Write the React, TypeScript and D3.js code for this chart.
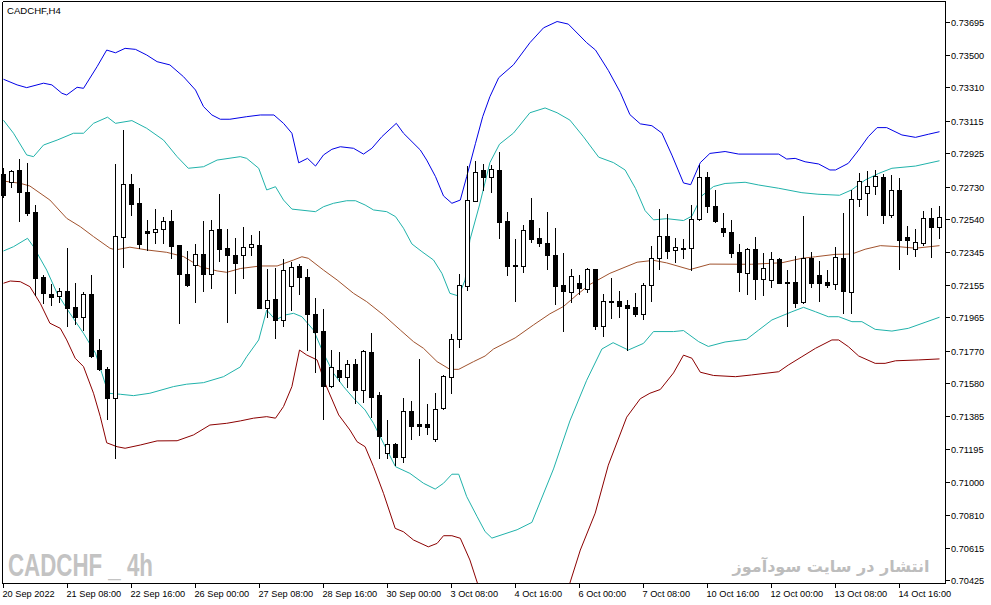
import React from "react";
import * as d3 from "d3";

// ---------- DATA ----------
const candleOpen = [
  0.72804, 0.72755, 0.72827, 0.72698, 0.72580, 0.72202, 0.72101, 0.72089, 0.72116, 0.72023,
  0.71968, 0.72101, 0.71773, 0.71664, 0.71490, 0.72437, 0.72745, 0.72633, 0.72470, 0.72462,
  0.72480, 0.72528, 0.72388, 0.72218, 0.72269, 0.72334, 0.72218, 0.72482, 0.72371, 0.72330,
  0.72328, 0.72375, 0.72388, 0.72021, 0.72070, 0.71947, 0.72150, 0.72265, 0.72198, 0.71984,
  0.71884, 0.71564, 0.71656, 0.71617, 0.71692, 0.71541, 0.71761, 0.71510, 0.71169, 0.71223,
  0.71145, 0.71416, 0.71340, 0.71340, 0.71250, 0.71432, 0.71617, 0.71836, 0.72150, 0.72647,
  0.72827, 0.72783, 0.72827, 0.72529, 0.72268, 0.72265, 0.72535, 0.72428, 0.72402, 0.72330,
  0.72151, 0.72113, 0.72168, 0.72131, 0.72247, 0.71916, 0.72060, 0.72058, 0.72034, 0.72024,
  0.71985, 0.72151, 0.72313, 0.72442, 0.72361, 0.72372, 0.72370, 0.72542, 0.72787, 0.72616,
  0.72488, 0.72462, 0.72345, 0.72225, 0.72363, 0.72191, 0.72181, 0.72306, 0.72169, 0.72169,
  0.72052, 0.72310, 0.72212, 0.72173, 0.72158, 0.72314, 0.72114, 0.72655, 0.72690, 0.72733,
  0.72786, 0.72564, 0.72708, 0.72435, 0.72363, 0.72398, 0.72544, 0.72491,
];
const candleHigh = [
  0.72839, 0.72826, 0.72889, 0.72869, 0.72620, 0.72212, 0.72160, 0.72134, 0.72371, 0.72164,
  0.72111, 0.72212, 0.71838, 0.71672, 0.72860, 0.73061, 0.72804, 0.72720, 0.72534, 0.72597,
  0.72554, 0.72593, 0.72390, 0.72353, 0.72394, 0.72528, 0.72534, 0.72686, 0.72482, 0.72431,
  0.72492, 0.72446, 0.72470, 0.72247, 0.72255, 0.72306, 0.72290, 0.72275, 0.72247, 0.72076,
  0.72013, 0.71773, 0.71763, 0.71715, 0.71719, 0.71773, 0.71874, 0.71529, 0.71363, 0.71227,
  0.71494, 0.71475, 0.71720, 0.71457, 0.71523, 0.71627, 0.71867, 0.72218, 0.72852, 0.72879,
  0.72863, 0.72859, 0.72935, 0.72583, 0.72421, 0.72507, 0.72665, 0.72486, 0.72579, 0.72486,
  0.72341, 0.72247, 0.72211, 0.72254, 0.72250, 0.72099, 0.72194, 0.72118, 0.72065, 0.72109,
  0.72164, 0.72384, 0.72596, 0.72568, 0.72431, 0.72421, 0.72622, 0.72859, 0.72816, 0.72710,
  0.72574, 0.72534, 0.72392, 0.72369, 0.72433, 0.72343, 0.72345, 0.72310, 0.72241, 0.72323,
  0.72558, 0.72345, 0.72294, 0.72241, 0.72378, 0.72577, 0.72710, 0.72811, 0.72821, 0.72827,
  0.72804, 0.72796, 0.72778, 0.72497, 0.72480, 0.72587, 0.72603, 0.72616,
];
const candleLow = [
  0.72669, 0.72729, 0.72530, 0.72564, 0.72095, 0.72050, 0.72037, 0.72056, 0.71914, 0.71926,
  0.71890, 0.71730, 0.71656, 0.71371, 0.71139, 0.72261, 0.72564, 0.72369, 0.72359, 0.72398,
  0.72398, 0.72310, 0.71930, 0.72150, 0.72056, 0.72120, 0.72138, 0.72296, 0.71936, 0.72108,
  0.72193, 0.72330, 0.72019, 0.71968, 0.71845, 0.71916, 0.72007, 0.72101, 0.71773, 0.71646,
  0.71367, 0.71558, 0.71594, 0.71558, 0.71461, 0.71470, 0.71382, 0.71139, 0.71139, 0.71100,
  0.71119, 0.71250, 0.71276, 0.71281, 0.71242, 0.71426, 0.71523, 0.71793, 0.72124, 0.72645,
  0.72708, 0.72698, 0.72428, 0.72211, 0.72060, 0.72232, 0.72405, 0.72384, 0.72247, 0.72043,
  0.71883, 0.72054, 0.72103, 0.72113, 0.71898, 0.71855, 0.71959, 0.71968, 0.71773, 0.71974,
  0.71952, 0.72060, 0.72247, 0.72313, 0.72287, 0.72310, 0.72239, 0.72535, 0.72583, 0.72525,
  0.72441, 0.72320, 0.72118, 0.72101, 0.72072, 0.72095, 0.72144, 0.72164, 0.71916, 0.72027,
  0.72046, 0.72140, 0.72060, 0.72140, 0.72128, 0.71991, 0.71991, 0.72618, 0.72564, 0.72686,
  0.72515, 0.72554, 0.72245, 0.72335, 0.72326, 0.72388, 0.72320, 0.72431,
];
const candleClose = [
  0.72681, 0.72823, 0.72700, 0.72577, 0.72196, 0.72105, 0.72085, 0.72116, 0.72017, 0.71968,
  0.72099, 0.71740, 0.71664, 0.71490, 0.72439, 0.72745, 0.72629, 0.72394, 0.72460, 0.72480,
  0.72528, 0.72384, 0.72216, 0.72156, 0.72334, 0.72216, 0.72476, 0.72367, 0.72328, 0.72284,
  0.72375, 0.72392, 0.72021, 0.72064, 0.71947, 0.72241, 0.72259, 0.72198, 0.71984, 0.71880,
  0.71564, 0.71674, 0.71615, 0.71692, 0.71541, 0.71767, 0.71500, 0.71271, 0.71223, 0.71149,
  0.71416, 0.71330, 0.71330, 0.71324, 0.71428, 0.71621, 0.71838, 0.72154, 0.72651, 0.72813,
  0.72783, 0.72831, 0.72525, 0.72265, 0.72262, 0.72477, 0.72423, 0.72400, 0.72330, 0.72147,
  0.72118, 0.72204, 0.72135, 0.72247, 0.71916, 0.72058, 0.72057, 0.72028, 0.72021, 0.71985,
  0.72151, 0.72313, 0.72442, 0.72352, 0.72374, 0.72373, 0.72542, 0.72787, 0.72615, 0.72530,
  0.72466, 0.72343, 0.72230, 0.72363, 0.72191, 0.72251, 0.72304, 0.72167, 0.72167, 0.72050,
  0.72310, 0.72167, 0.72167, 0.72156, 0.72318, 0.72120, 0.72655, 0.72761, 0.72733, 0.72790,
  0.72564, 0.72708, 0.72419, 0.72415, 0.72404, 0.72544, 0.72491, 0.72550,
];

// bands: [bar index, price]
const upperOuterBand: [number, number][] = [
  [0, 0.73358], [1.7, 0.73325], [2.9, 0.73309], [5.0, 0.73335], [6.05, 0.73325], [7.3, 0.73276],
  [7.9, 0.73266], [9.2, 0.73311], [10.0, 0.73305], [11.7, 0.73432], [12.9, 0.73529], [14.0, 0.73513],
  [15.2, 0.73539], [16.5, 0.73533], [17.9, 0.735], [19.2, 0.73461], [20.8, 0.73442], [22.5, 0.73373],
  [24.0, 0.73295], [25.0, 0.73198], [26.05, 0.73149], [27.1, 0.73124], [28.3, 0.73124], [30.4, 0.73139],
  [32.1, 0.73149], [33.8, 0.73149], [35.0, 0.731], [36.05, 0.73042], [36.9, 0.72869], [38.0, 0.72895],
  [39.0, 0.7285], [40.0, 0.72915], [41.05, 0.72948], [42.1, 0.72963], [43.75, 0.72954], [45.0, 0.7292],
  [46.05, 0.72954], [47.3, 0.73022], [49.1, 0.731], [50.0, 0.73042], [52.1, 0.72944], [52.9, 0.72885],
  [54.0, 0.72788], [55.0, 0.72675], [56.05, 0.72632], [57.1, 0.72651], [57.9, 0.72788], [59.0, 0.72983],
  [59.9, 0.73139], [60.8, 0.73256], [61.9, 0.73367], [63.75, 0.73443], [65.8, 0.73572], [67.5, 0.73659],
  [69.2, 0.73696], [70.6, 0.73681], [72.9, 0.73572], [74.0, 0.73529], [75.6, 0.7341], [77.1, 0.73281],
  [78.3, 0.73151], [79.6, 0.73097], [81.05, 0.73086], [82.3, 0.73043], [83.55, 0.72914], [85.0, 0.72751],
  [85.9, 0.72741], [87.1, 0.7287], [88.3, 0.72924], [90.2, 0.72935], [91.9, 0.7292], [96.9, 0.7292],
  [97.9, 0.72891], [98.96, 0.72895], [100.2, 0.72875], [101.9, 0.72862], [103.3, 0.72827], [104.0, 0.72827],
  [105.6, 0.72866], [106.9, 0.72944], [108.1, 0.73022], [109.2, 0.73075], [110.4, 0.73075], [112.3, 0.73032],
  [114.0, 0.73018], [115.6, 0.73036], [117.0, 0.73051],
];
const upperInnerBand: [number, number][] = [
  [0, 0.73118], [1.25, 0.73042], [2.9, 0.72915], [3.75, 0.72905], [5.0, 0.72973], [6.7, 0.73002],
  [8.75, 0.73042], [10.0, 0.73042], [11.25, 0.731], [13.0, 0.73136], [14.0, 0.731], [16.05, 0.73116],
  [17.9, 0.73071], [20.0, 0.73002], [21.7, 0.72905], [23.1, 0.72837], [25.0, 0.72846], [26.7, 0.72885],
  [29.6, 0.72905], [30.4, 0.72895], [31.9, 0.72837], [32.9, 0.7271], [34.0, 0.72729], [35.0, 0.72651],
  [36.05, 0.72598], [39.0, 0.72583], [40.0, 0.72612], [41.25, 0.72632], [42.9, 0.72647], [44.0, 0.72647],
  [45.2, 0.72622], [46.25, 0.72593], [47.9, 0.72583], [49.0, 0.72554], [50.0, 0.72486], [51.05, 0.72394],
  [52.3, 0.72349], [53.75, 0.723], [54.8, 0.72222], [55.8, 0.72105], [56.9, 0.72089], [57.7, 0.72183],
  [58.3, 0.72417], [59.5, 0.72622], [60.8, 0.7287], [62.0, 0.72978], [63.75, 0.73043], [65.8, 0.73162],
  [67.7, 0.7319], [69.2, 0.73162], [70.8, 0.73119], [72.5, 0.73021], [74.4, 0.72902], [76.25, 0.7287],
  [77.7, 0.72827], [79.0, 0.72719], [80.2, 0.72589], [81.25, 0.72535], [82.9, 0.72542], [85.0, 0.72531],
  [86.05, 0.72557], [87.3, 0.72676], [88.75, 0.7273], [90.2, 0.72748], [92.7, 0.72755], [94.4, 0.72739],
  [96.9, 0.7272], [99.8, 0.72694], [101.8, 0.72685], [104.5, 0.72679], [106.0, 0.7271], [107.7, 0.72768],
  [109.4, 0.72807], [111.05, 0.72837], [114.0, 0.7285], [117.0, 0.72881],
];
const middleBand: [number, number][] = [
  [0, 0.72762], [2.1, 0.72749], [3.3, 0.72733], [5.8, 0.72651], [7.9, 0.72544], [9.6, 0.72495],
  [11.25, 0.72437], [13.3, 0.72369], [14.0, 0.72359], [15.8, 0.72375], [17.9, 0.72359], [20.4, 0.72345],
  [22.5, 0.7232], [24.6, 0.72261], [26.7, 0.72236], [27.9, 0.72228], [29.6, 0.7225], [32.1, 0.72265],
  [34.2, 0.72265], [36.25, 0.723], [37.3, 0.72319], [38.1, 0.7231], [40.0, 0.72241], [41.7, 0.72183],
  [43.75, 0.72105], [45.4, 0.72056], [47.5, 0.71978], [49.6, 0.7189], [51.25, 0.71822], [52.5, 0.71783],
  [54.2, 0.71705], [55.8, 0.7166], [56.9, 0.7166], [58.75, 0.71705], [60.2, 0.71738], [61.25, 0.71779],
  [63.96, 0.71844], [66.25, 0.7192], [68.3, 0.71985], [70.0, 0.72028], [71.7, 0.72097], [73.3, 0.72157],
  [75.8, 0.72222], [79.2, 0.72287], [81.25, 0.72298], [82.9, 0.72283], [85.8, 0.72244], [88.3, 0.72276],
  [93.5, 0.72275], [97.3, 0.72284], [99.8, 0.7231], [101.5, 0.72319], [103.96, 0.72333], [106.05, 0.72335],
  [107.7, 0.72363], [109.6, 0.72384], [111.9, 0.72378], [114.0, 0.72369], [117.0, 0.72384],
];
const lowerInnerBand: [number, number][] = [
  [0, 0.72353], [1.25, 0.72378], [3.0, 0.72427], [3.75, 0.72378], [5.4, 0.72241], [6.7, 0.72105],
  [8.3, 0.71988], [10.0, 0.71871], [11.5, 0.71754], [12.3, 0.71637], [13.1, 0.7152], [14.6, 0.71514],
  [16.25, 0.71506], [18.3, 0.7152], [21.25, 0.71559], [22.9, 0.71573], [25.0, 0.71582], [27.5, 0.71617],
  [29.6, 0.71674], [30.4, 0.71734], [31.9, 0.71832], [32.9, 0.72007], [34.0, 0.71949], [35.2, 0.71978],
  [36.25, 0.71988], [37.3, 0.71968], [38.75, 0.7189], [40.0, 0.71754], [41.25, 0.71637], [42.5, 0.71559],
  [43.75, 0.71491], [45.2, 0.71422], [46.25, 0.71344], [47.5, 0.71227], [49.0, 0.7109], [50.8, 0.71051],
  [52.5, 0.70993], [53.96, 0.70959], [55.0, 0.70993], [56.05, 0.71046], [56.9, 0.71046], [57.9, 0.70915],
  [59.2, 0.70798], [60.2, 0.7071], [61.05, 0.70672], [64.2, 0.70721], [66.05, 0.70764], [68.75, 0.71077],
  [70.8, 0.71358], [72.9, 0.71596], [74.8, 0.71779], [76.2, 0.71816], [78.1, 0.71773], [80.0, 0.71812],
  [81.25, 0.71881], [83.75, 0.71881], [85.0, 0.71887], [86.9, 0.71822], [88.1, 0.71794], [90.2, 0.7182],
  [92.9, 0.71836], [94.4, 0.7189], [96.05, 0.71949], [98.55, 0.71997], [100.0, 0.72023], [101.5, 0.71997],
  [103.1, 0.71968], [104.4, 0.71968], [106.05, 0.71939], [107.3, 0.71939], [108.96, 0.71894], [111.05, 0.71884],
  [113.1, 0.719], [115.2, 0.71935], [117.0, 0.71965],
];
const lowerOuterBand: [number, number][] = [
  [0, 0.72164], [0.85, 0.72177], [2.1, 0.72173], [3.3, 0.72144], [4.6, 0.72046], [5.8, 0.7193],
  [7.1, 0.719], [7.9, 0.71832], [8.96, 0.71725], [10.0, 0.71676], [11.25, 0.7152], [12.1, 0.71383],
  [12.9, 0.7123], [14.2, 0.71207], [15.2, 0.71198], [17.1, 0.71217], [19.2, 0.71241], [21.7, 0.71242],
  [23.75, 0.71276], [25.8, 0.71334], [27.9, 0.71344], [29.6, 0.71358], [31.25, 0.71374], [32.9, 0.71383],
  [34.0, 0.71374], [35.0, 0.71442], [36.05, 0.71559], [37.0, 0.71773], [37.9, 0.71744], [39.2, 0.71715],
  [40.2, 0.71578], [41.9, 0.71393], [43.3, 0.71305], [44.2, 0.71236], [45.2, 0.71207], [46.25, 0.7109],
  [47.5, 0.70934], [48.96, 0.70729], [50.0, 0.70709], [51.25, 0.70661], [53.1, 0.70621], [54.2, 0.70641],
  [55.0, 0.70686], [56.05, 0.70686], [57.1, 0.70671], [58.3, 0.70544], [59.25, 0.70407], [60.9, 0.70222],
  [63.3, 0.70105], [65.8, 0.70076], [68.3, 0.70163], [70.8, 0.70409], [72.1, 0.70602], [73.96, 0.70818],
  [75.6, 0.71099], [77.9, 0.7138], [79.6, 0.71488], [80.8, 0.7152], [82.1, 0.71542], [83.75, 0.71639],
  [85.0, 0.71743], [86.05, 0.71725], [87.1, 0.71643], [88.75, 0.71624], [91.5, 0.71617], [93.5, 0.71627],
  [96.9, 0.71646], [98.1, 0.71685], [99.8, 0.71734], [101.5, 0.71783], [103.55, 0.71832], [104.4, 0.71832],
  [105.6, 0.71793], [106.9, 0.71738], [108.96, 0.71695], [110.2, 0.71695], [111.5, 0.7171], [114.4, 0.71715],
  [117.0, 0.71721],
];

const priceTicks = [
  0.73695, 0.735, 0.7331, 0.73115, 0.72925, 0.7273, 0.7254, 0.72345, 0.72155,
  0.71965, 0.7177, 0.7158, 0.71385, 0.71195, 0.71, 0.7081, 0.70615, 0.70425,
];
const timeTickLabels = [
  "20 Sep 2022", "21 Sep 08:00", "22 Sep 16:00", "26 Sep 00:00", "27 Sep 08:00",
  "28 Sep 16:00", "30 Sep 00:00", "3 Oct 08:00", "4 Oct 16:00", "6 Oct 00:00",
  "7 Oct 08:00", "10 Oct 16:00", "12 Oct 00:00", "13 Oct 08:00", "14 Oct 16:00",
];
const barsPerTimeTick = 8;
const chartTitle = "CADCHF,H4";
const watermarkLeft = "CADCHF _ 4h";
const watermarkRight = "انتشار در سایت سودآموز";

// ---------- LAYOUT ----------
const W = 991;
const H = 605;
const plotLeft = 2.5;
const plotRight = 945.5;
const plotTop = 1.5;
const plotBottom = 583.5;

const xScale = d3.scaleLinear().domain([0, candleOpen.length - 1]).range([3.5, 939.5]);
const yScale = d3.scaleLinear().domain([0.70425, 0.73695]).range([580.3, 21.7]);

const bandLine = d3
  .line<[number, number]>()
  .x((d) => xScale(d[0]))
  .y((d) => yScale(d[1]))
  .curve(d3.curveLinear);

const FONT = "'Liberation Sans', Arial, sans-serif";

export default function App() {
  const candles = candleOpen.map((o, i) => {
    const c = candleClose[i];
    const cx = xScale(i);
    const bull = c > o;
    const yTop = Math.round(yScale(Math.max(o, c)));
    const yBot = Math.round(yScale(Math.min(o, c)));
    const bodyH = Math.max(1, yBot - yTop);
    return (
      <g key={i}>
        <line
          x1={cx}
          x2={cx}
          y1={Math.round(yScale(candleHigh[i]))}
          y2={Math.round(yScale(candleLow[i])) + 1}
          stroke="#000"
          strokeWidth={1}
        />
        {bull ? (
          <rect
            x={cx - 2}
            y={yTop + 0.5}
            width={4}
            height={Math.max(1, bodyH)}
            fill="#fff"
            stroke="#000"
            strokeWidth={1}
          />
        ) : (
          <rect x={cx - 2.5} y={yTop} width={5} height={bodyH + 1} fill="#000" />
        )}
      </g>
    );
  });

  const bands: { data: [number, number][]; color: string }[] = [
    { data: upperOuterBand, color: "#0000e6" },
    { data: upperInnerBand, color: "#20b2aa" },
    { data: middleBand, color: "#a0522d" },
    { data: lowerInnerBand, color: "#20b2aa" },
    { data: lowerOuterBand, color: "#8b0000" },
  ];

  return (
    <div style={{ position: "absolute", left: 0, top: 0, width: W, height: H, background: "#fff" }}>
      <svg width={W} height={H} style={{ display: "block" }}>
        <defs>
          <clipPath id="plotClip">
            <rect x={plotLeft} y={plotTop} width={plotRight - plotLeft} height={plotBottom - plotTop} />
          </clipPath>
        </defs>
        <rect x={0} y={0} width={W} height={H} fill="#fff" />

        {/* watermarks */}
        <text
          x={8}
          y={576}
          fontFamily={FONT}
          fontWeight="bold"
          fontSize={31}
          fill="#c3c3c3"
          textLength={145}
          lengthAdjust="spacingAndGlyphs"
        >
          {watermarkLeft}
        </text>
        <text
          x={831}
          y={571.5}
          fontFamily="'DejaVu Sans', sans-serif"
          fontWeight="bold"
          fontSize={16}
          fill="#bdbdbd"
          textAnchor="middle"
        >
          {watermarkRight}
        </text>

        {/* bands */}
        <g clipPath="url(#plotClip)" fill="none" strokeWidth={1}>
          {bands.map((b, k) => (
            <path key={k} d={bandLine(b.data) || ""} stroke={b.color} />
          ))}
        </g>

        {/* candles */}
        <g shapeRendering="crispEdges">{candles}</g>

        {/* frame */}
        <g shapeRendering="crispEdges" stroke="#000" strokeWidth={1}>
          <line x1={plotLeft} x2={plotRight} y1={plotTop} y2={plotTop} />
          <line x1={plotLeft} x2={plotLeft} y1={plotTop} y2={plotBottom} />
          <line x1={plotRight} x2={plotRight} y1={plotTop} y2={plotBottom} />
          <line x1={plotLeft} x2={plotRight} y1={plotBottom} y2={plotBottom} />
        </g>

        {/* price axis */}
        <g fontFamily={FONT} fontSize={9.2} fill="#000">
          {priceTicks.map((p) => {
            const y = Math.round(yScale(p)) + 0.5;
            return (
              <g key={p}>
                <line x1={plotRight} x2={plotRight + 4} y1={y} y2={y} stroke="#000" shapeRendering="crispEdges" />
                <text x={951} y={y} dy="0.35em">
                  {p.toFixed(5)}
                </text>
              </g>
            );
          })}
        </g>

        {/* time axis */}
        <g fontFamily={FONT} fontSize={9.2} fill="#000">
          {timeTickLabels.map((t, k) => {
            const x = xScale(k * barsPerTimeTick);
            return (
              <g key={t}>
                <line x1={x} x2={x} y1={plotBottom} y2={plotBottom + 4} stroke="#000" shapeRendering="crispEdges" />
                <text x={x - 1} y={597}>
                  {t}
                </text>
              </g>
            );
          })}
        </g>

        {/* title */}
        <text x={7} y={14.3} fontFamily={FONT} fontSize={9.6} fill="#000">
          {chartTitle}
        </text>
      </svg>
    </div>
  );
}
